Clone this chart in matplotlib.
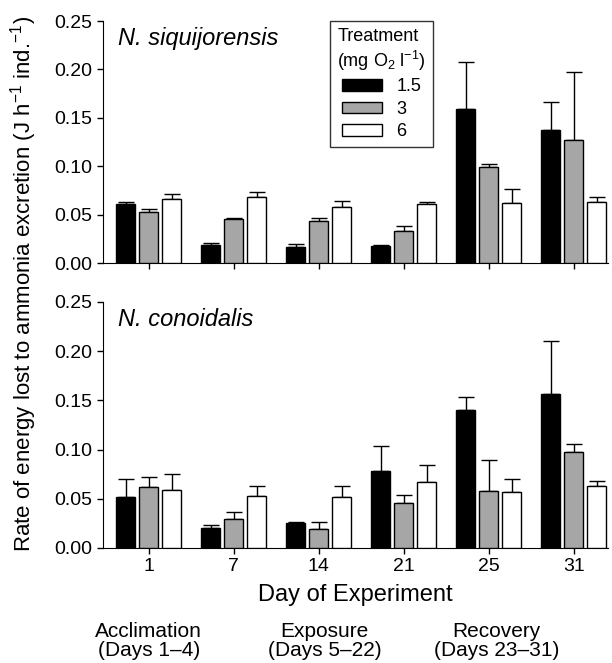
import matplotlib
matplotlib.use("Agg")
import matplotlib.pyplot as plt
import numpy as np

plt.rcParams['font.family'] = ['Liberation Sans', 'DejaVu Sans']
plt.rcParams['mathtext.default'] = 'regular'

# Day of experiment (x categories)
days = ["1", "7", "14", "21", "25", "31"]
treatments = ["1.5", "3", "6"]

# N. siquijorensis: means and upper SE for each treatment (1.5, 3, 6 mg O2/l)
siq_mean = [
    [0.061, 0.0186, 0.0165, 0.018, 0.159, 0.137],
    [0.053, 0.045, 0.043, 0.033, 0.099, 0.127],
    [0.066, 0.068, 0.058, 0.0606, 0.062, 0.063],
]
siq_err = [
    [0.002, 0.0024, 0.0035, 0.0005, 0.049, 0.029],
    [0.003, 0.002, 0.004, 0.0056, 0.003, 0.070],
    [0.005, 0.005, 0.006, 0.0024, 0.014, 0.005],
]

# N. conoidalis
con_mean = [
    [0.052, 0.0204, 0.0255, 0.0785, 0.140, 0.156],
    [0.0615, 0.0292, 0.0194, 0.0455, 0.058, 0.0978],
    [0.059, 0.053, 0.052, 0.067, 0.0564, 0.0625],
]
con_err = [
    [0.018, 0.003, 0.0005, 0.025, 0.0135, 0.054],
    [0.011, 0.007, 0.0066, 0.0085, 0.031, 0.008],
    [0.016, 0.0095, 0.011, 0.017, 0.014, 0.006],
]

species = ["N. siquijorensis", "N. conoidalis"]
phases = ["Acclimation\n(Days 1–4)", "Exposure\n(Days 5–22)", "Recovery\n(Days 23–31)"]
phase_pos = [0.0, 2.07, 4.09]

colors = ["black", "#a6a6a6", "white"]
width = 0.22
offsets = [-0.27, 0.0, 0.27]

fig = plt.figure(figsize=(6.12, 6.63), dpi=100)
ax1 = fig.add_axes([0.168, 0.6033, 0.825, 0.365])
ax2 = fig.add_axes([0.168, 0.1735, 0.825, 0.371])

x = np.arange(len(days))

for ax, means, errs, name in [(ax1, siq_mean, siq_err, species[0]),
                              (ax2, con_mean, con_err, species[1])]:
    for i in range(3):
        m = np.array(means[i])
        e = np.array(errs[i])
        ax.bar(x + offsets[i], m, width, color=colors[i], edgecolor="black",
               linewidth=1.0, label=treatments[i], zorder=3)
        # upper error bars only
        ax.errorbar(x + offsets[i], m, yerr=[np.zeros_like(e), e], fmt="none",
                    ecolor="black", elinewidth=1.0, capsize=5.5, capthick=1.0,
                    zorder=2)
    ax.set_ylim(0, 0.25)
    ax.set_xlim(-0.54, 5.4)
    ax.set_yticks([0, 0.05, 0.10, 0.15, 0.20, 0.25])
    ax.set_yticklabels(["0.00", "0.05", "0.10", "0.15", "0.20", "0.25"])
    ax.set_xticks(x)
    ax.spines["top"].set_visible(False)
    ax.spines["right"].set_visible(False)
    ax.tick_params(axis="both", direction="out", length=4, width=1, labelsize=14)
    ax.text(0.03, 0.975, name, transform=ax.transAxes, fontsize=17,
            style="italic", va="top", ha="left")

ax1.set_xticklabels([])
ax2.set_xticklabels(days)
ax2.set_xlabel("Day of Experiment", fontsize=17, labelpad=6)

leg = ax1.legend(title="Treatment\n(mg O$_2$ l$^{-1}$)", loc="upper left",
                 bbox_to_anchor=(0.45, 1.0), borderaxespad=0, fontsize=13,
                 title_fontsize=13, frameon=True, fancybox=False,
                 edgecolor="black", handlelength=2.2, handleheight=0.6,
                 labelspacing=0.3)
leg.get_frame().set_linewidth(1.0)

# experiment phases under the x axis
for pos, label in zip(phase_pos, phases):
    ax2.text(pos, -0.3, label, transform=ax2.get_xaxis_transform(),
             ha="center", va="top", fontsize=15, linespacing=1.0)

fig.text(0.038, 0.571, "Rate of energy lost to ammonia excretion (J h$^{-1}$ ind.$^{-1}$)",
         rotation=90, ha="center", va="center", fontsize=16)

fig.savefig("out.png", dpi=100)
